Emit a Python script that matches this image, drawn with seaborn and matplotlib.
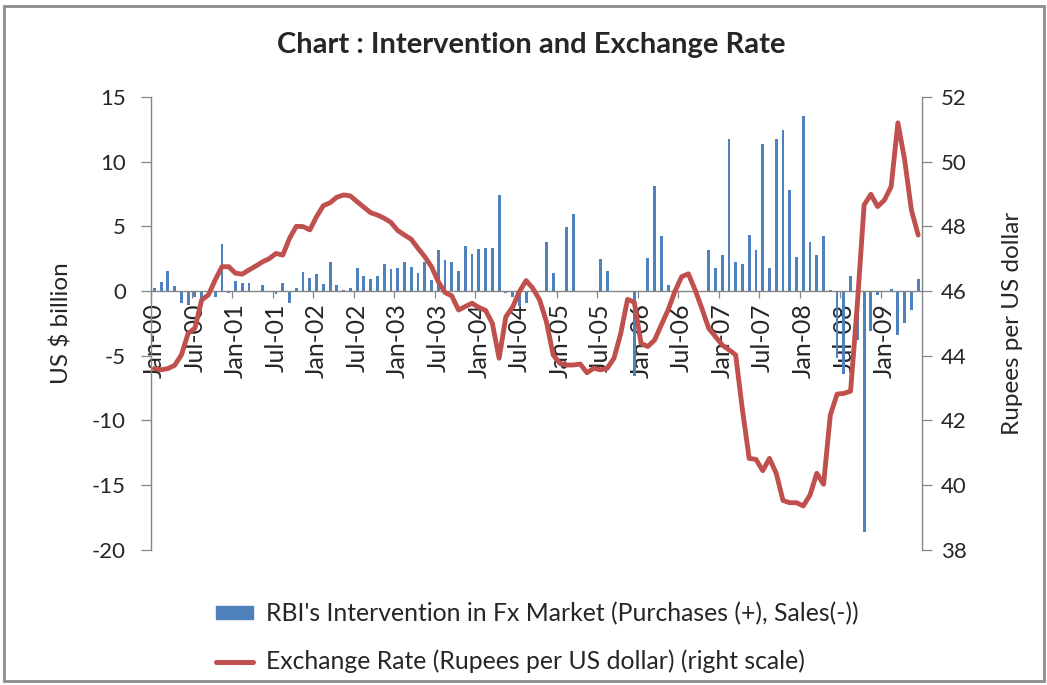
import numpy as np
import pandas as pd
import matplotlib
matplotlib.use('Agg')
import matplotlib.pyplot as plt
from matplotlib.patches import Patch, Rectangle
from matplotlib.lines import Line2D
import seaborn as sns

# monthly, Jan-2000 .. Jun-2009
months = pd.date_range('2000-01-01', periods=114, freq='MS')

# RBI intervention in Fx market, US $ billion (purchases +, sales -)
intervention = [
    0.25, 0.7, 1.55, 0.4, -0.9, -1.1, -0.45, -0.55, -0.3, -0.5, 3.65, -0.15,
    0.75, 0.6, 0.6, 0.0, 0.45, 0.0, -0.25, 0.65, -0.9, 0.2, 1.45, 1.0,
    1.35, 0.55, 2.25, 0.45, 0.1, 0.2, 1.75, 1.15, 0.95, 1.15, 2.05, 1.7,
    1.78, 2.27, 1.85, 1.37, 2.27, 0.88, 3.15, 2.38, 2.27, 1.56, 3.47, 2.86,
    3.25, 3.35, 3.35, 7.42, -0.18, -0.44, -1.2, -0.9, 0.0, 0.0, 3.76, 1.38,
    0.0, 4.97, 5.95, 0.0, 0.0, 0.0, 2.46, 1.57, 0.0, 0.0, 0.0, -6.57,
    0.0, 2.54, 8.08, 4.25, 0.46, 0.0, 0.0, 0.0, 0.0, 0.0, 3.13, 1.75,
    2.76, 11.78, 2.24, 2.06, 4.33, 3.13, 11.4, 1.75, 11.78, 12.47, 7.81, 2.65,
    13.56, 3.81, 2.76, 4.25, 0.1, -5.15, -6.4, 1.16, -3.78, -18.67, -3.08, -0.3,
    0.03, 0.15, -3.4, -2.48, -1.5, 0.95,
]

# exchange rate, rupees per US dollar (right scale)
rate = [
    43.6, 43.56, 43.6, 43.7, 44.02, 44.69, 44.85, 45.72, 45.88, 46.34, 46.75, 46.75,
    46.55, 46.52, 46.65, 46.77, 46.9, 47.0, 47.16, 47.11, 47.63, 48.0, 47.99, 47.89,
    48.3, 48.64, 48.73, 48.9, 48.97, 48.94, 48.76, 48.59, 48.42, 48.35, 48.25, 48.12,
    47.87, 47.73, 47.6, 47.32, 47.06, 46.75, 46.29, 45.95, 45.85, 45.41, 45.52, 45.62,
    45.49, 45.4, 45.0, 43.92, 45.2, 45.5, 45.98, 46.32, 46.08, 45.72, 45.05, 44.02,
    43.76, 43.71, 43.71, 43.74, 43.47, 43.61, 43.56, 43.61, 43.92, 44.69, 45.74, 45.65,
    44.38, 44.28, 44.48, 44.95, 45.41, 45.98, 46.44, 46.53, 46.03, 45.46, 44.85, 44.59,
    44.33, 44.18, 44.02, 42.32, 40.82, 40.79, 40.44, 40.82, 40.36, 39.52, 39.45, 39.45,
    39.35, 39.69, 40.36, 40.02, 42.16, 42.81, 42.83, 42.9, 45.6, 48.66, 48.99, 48.61,
    48.81, 49.23, 51.2, 50.05, 48.5, 47.73,
]

bar_label = "RBI's Intervention in Fx Market (Purchases (+), Sales(-))"
line_label = "Exchange Rate (Rupees per US dollar) (right scale)"
title = "Chart : Intervention and Exchange Rate"

BLUE = '#4F81BD'
RED = '#C0504D'
GREY = '#868686'

sns.set_theme(style='white')
plt.rcParams['font.family'] = ['Lato', 'DejaVu Sans']
plt.rcParams['axes.unicode_minus'] = False

df = pd.DataFrame({'month': months.strftime('%b-%y'), 'value': intervention})
pos = np.arange(len(df))

fig = plt.figure(figsize=(10.47, 6.85), dpi=100)
ax = fig.add_axes([0.1442, 0.1977, 0.7360, 0.6607])

sns.barplot(data=df, x='month', y='value', color=BLUE, saturation=1,
            width=0.42, linewidth=0, antialiased=False, ax=ax)
ax.set_xlim(-0.5, len(df) - 0.5)
ax.set_ylim(-20, 15)
ax.set_yticks(range(-20, 16, 5))
ax.set_xlabel('')
ax.set_ylabel('US $ billion', fontsize=17.5)
ax.yaxis.set_label_coords(-0.102, 0.5)

# category axis crosses at zero, labels every six months
lab = [i for i, m in enumerate(months) if m.month in (1, 7)]
ax.spines['bottom'].set_position(('data', 0))
ax.set_xticks(lab)
ax.set_xticklabels([df['month'][i] for i in lab], rotation=90, fontsize=18)
ax.set_xticks([i - 0.5 for i in lab], minor=True)
ax.tick_params(axis='x', which='major', length=0, pad=9)
ax.tick_params(axis='x', which='minor', length=5, width=0.9, color=GREY,
               direction='out', bottom=True)
ax.tick_params(axis='y', length=7, width=0.9, color=GREY, direction='out',
               left=True, labelsize=16, pad=11)
for s in ['top', 'right']:
    ax.spines[s].set_visible(False)
for s in ['left', 'bottom']:
    ax.spines[s].set_color(GREY)
    ax.spines[s].set_linewidth(1.0)

ax2 = ax.twinx()
sns.lineplot(x=pos, y=rate, color=RED, linewidth=3.5, ax=ax2)
ax2.set_ylim(38, 52)
ax2.set_yticks(range(38, 53, 2))
ax2.set_ylabel('Rupees per US dollar', fontsize=17.5)
ax2.yaxis.set_label_coords(1.105, 0.5)
ax2.tick_params(axis='y', length=7, width=0.9, color=GREY, direction='out',
                right=True, labelsize=16, pad=7)
for s in ['top', 'left', 'bottom']:
    ax2.spines[s].set_visible(False)
ax2.spines['right'].set_color(GREY)
ax2.spines['right'].set_linewidth(1.0)
ax2.grid(False)
ax.grid(False)

fig.text(0.507, 1 - 45 / 685, title, ha='center', va='center',
         fontsize=21, fontweight='bold')

handles = [Patch(facecolor=BLUE, edgecolor=BLUE),
           Line2D([], [], color=RED, linewidth=3.6)]
fig.legend(handles, [bar_label, line_label], loc='upper left',
           bbox_to_anchor=(194 / 1047, 1 - 580 / 685), frameon=False,
           fontsize=17.8, handlelength=1.5, handleheight=0.45,
           labelspacing=0.98, handletextpad=0.5)

fig.patches.append(Rectangle((0.004, 0.006), 0.993, 0.985,
                             transform=fig.transFigure, fill=False,
                             edgecolor='#8c8c8c', linewidth=2))

fig.savefig('out.png', dpi=100)
